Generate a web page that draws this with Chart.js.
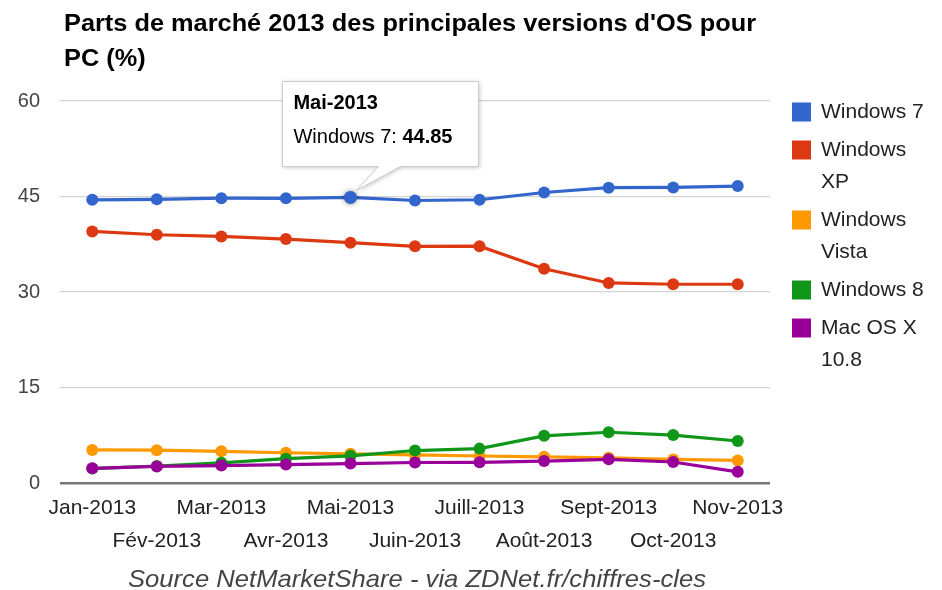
<!DOCTYPE html>
<html>
<head>
<meta charset="utf-8">
<script src="https://cdn.jsdelivr.net/npm/chart.js@4/dist/chart.umd.min.js"></script>
<style>
  html, body { margin: 0; padding: 0; background: #fff; }
  canvas { display: block; }
</style>
</head>
<body>
<canvas id="osChart" width="942" height="590"></canvas>
<script>
'use strict';

// months shown on the x axis
var months = ['Jan-2013', 'Fév-2013', 'Mar-2013', 'Avr-2013', 'Mai-2013', 'Juin-2013',
  'Juill-2013', 'Août-2013', 'Sept-2013', 'Oct-2013', 'Nov-2013'];

// market share (%) per OS version
var win7   = [44.48, 44.55, 44.73, 44.71, 44.85, 44.37, 44.49, 45.63, 46.39, 46.42, 46.64];
var winXP  = [39.51, 38.99, 38.73, 38.31, 37.74, 37.17, 37.19, 33.66, 31.42, 31.22, 31.22];
var vista  = [5.20, 5.15, 4.97, 4.75, 4.58, 4.41, 4.24, 4.11, 3.96, 3.70, 3.55];
var win8   = [2.26, 2.67, 3.17, 3.82, 4.27, 5.10, 5.40, 7.41, 7.97, 7.53, 6.60];
var mac108 = [2.30, 2.60, 2.74, 2.89, 3.05, 3.22, 3.25, 3.45, 3.72, 3.30, 1.75];

var seriesNames = ['Windows 7', 'Windows XP', 'Windows Vista', 'Windows 8', 'Mac OS X 10.8'];
// how each legend entry wraps
var legendLines = [['Windows 7'], ['Windows', 'XP'], ['Windows', 'Vista'], ['Windows 8'], ['Mac OS X', '10.8']];
var colors = ['#3366cc', '#dc3912', '#ff9900', '#109618', '#990099'];

var yTicks = [0, 15, 30, 45, 60];

var titleLines = ["Parts de marché 2013 des principales versions d'OS pour", 'PC (%)'];
var sourceText = 'Source NetMarketShare - via ZDNet.fr/chiffres-cles';

// tooltip shown in the picture
var tipSeries = 0;
var tipIndex = 4;

var FONT = '"Liberation Sans", Arial, sans-serif';

function stretchText(ctx, text, x, y, width) {
  var w = ctx.measureText(text).width;
  ctx.save();
  ctx.translate(x, y);
  ctx.scale(width / w, 1);
  ctx.fillText(text, 0, 0);
  ctx.restore();
}

var textPlugin = {
  id: 'texts',
  afterDraw: function(chart) {
    var ctx = chart.ctx;
    ctx.save();
    ctx.fillStyle = '#000';
    ctx.textAlign = 'left';
    ctx.textBaseline = 'alphabetic';
    ctx.font = 'bold 23px ' + FONT;
    var full = ctx.measureText(titleLines[0]).width;
    var sx = 692 / full;
    stretchText(ctx, titleLines[0], 64, 31, 692);
    stretchText(ctx, titleLines[1], 64, 66, ctx.measureText(titleLines[1]).width * sx);

    // source line
    ctx.font = 'italic 24px ' + FONT;
    ctx.fillStyle = '#444';
    stretchText(ctx, sourceText, 128, 587, 578);

    // legend
    var lx = 792, ly = 112, box = 19;
    ctx.font = '21px ' + FONT;
    ctx.textBaseline = 'middle';
    for (var i = 0; i < legendLines.length; i++) {
      ctx.fillStyle = chart.data.datasets[i].borderColor;
      ctx.fillRect(lx, ly - box / 2, box, box);
      ctx.fillStyle = '#222';
      for (var j = 0; j < legendLines[i].length; j++) {
        ctx.fillText(legendLines[i][j], lx + 29, ly + j * 32);
      }
      ly += (legendLines[i].length - 1) * 32 + 38;
    }
    ctx.restore();
  }
};

var callout = {
  id: 'callout',
  afterDatasetsDraw: function(chart) {
    var pt = chart.getDatasetMeta(tipSeries).data[tipIndex];
    var ctx = chart.ctx;
    var px = pt.x, py = pt.y;

    var left = px - 68, top = py - 116, w = 196, h = 85;
    ctx.save();
    ctx.beginPath();
    ctx.moveTo(left, top);
    ctx.lineTo(left + w, top);
    ctx.lineTo(left + w, top + h);
    ctx.lineTo(px + 50, top + h);
    ctx.lineTo(px + 6, py - 7);
    ctx.lineTo(px + 28, top + h);
    ctx.lineTo(left, top + h);
    ctx.closePath();
    ctx.shadowColor = 'rgba(0,0,0,0.25)';
    ctx.shadowBlur = 4;
    ctx.shadowOffsetX = 1;
    ctx.shadowOffsetY = 1;
    ctx.fillStyle = '#fff';
    ctx.fill();
    ctx.shadowColor = 'transparent';
    ctx.strokeStyle = '#cccccc';
    ctx.lineWidth = 1;
    ctx.stroke();

    ctx.fillStyle = '#000';
    ctx.textAlign = 'left';
    ctx.textBaseline = 'middle';
    ctx.font = 'bold 20px ' + FONT;
    ctx.fillText(chart.data.labels[tipIndex], left + 11, top + 22);
    ctx.font = '20px ' + FONT;
    var lbl = chart.data.datasets[tipSeries].label + ': ';
    ctx.fillText(lbl, left + 11, top + 56);
    var lw = ctx.measureText(lbl).width;
    ctx.font = 'bold 20px ' + FONT;
    ctx.fillText(chart.data.datasets[tipSeries].data[tipIndex].toFixed(2), left + 11 + lw, top + 56);
    ctx.restore();

    // highlighted point, on top of the caret
    ctx.save();
    ctx.beginPath();
    ctx.arc(px, py, 6.5, 0, Math.PI * 2);
    ctx.shadowColor = 'rgba(0,0,0,0.45)';
    ctx.shadowBlur = 5;
    ctx.fillStyle = chart.data.datasets[tipSeries].borderColor;
    ctx.fill();
    ctx.restore();
  }
};

var allSeries = [win7, winXP, vista, win8, mac108];
var datasets = allSeries.map(function(values, i) {
  return {
    label: seriesNames[i],
    data: values,
    borderColor: colors[i],
    backgroundColor: colors[i],
    borderWidth: 3.2,
    pointRadius: 6,
    pointBorderWidth: 0,
    pointHoverRadius: 6,
    tension: 0,
    order: allSeries.length - i
  };
});

var ctx = document.getElementById('osChart').getContext('2d');
var osChart = new Chart(ctx, {
  type: 'line',
  data: { labels: months, datasets: datasets },
  plugins: [textPlugin, callout],
  options: {
    responsive: false,
    animation: false,
    events: [],
    layout: { padding: { top: 101, right: 172, left: 0, bottom: 0 } },
    plugins: {
      legend: { display: false },
      tooltip: { enabled: false },
      title: { display: false }
    },
    scales: {
      x: {
        offset: true,
        grid: { display: false, drawTicks: false },
        border: { display: false },
        ticks: {
          autoSkip: false,
          maxRotation: 0,
          minRotation: 0,
          padding: 9,
          color: '#222',
          font: { family: FONT, size: 21, lineHeight: 1.56 },
          callback: function(value, index) {
            var lab = this.getLabelForValue(value);
            return index % 2 === 0 ? [lab] : ['', lab];
          }
        },
        afterFit: function(scale) { scale.height = 107; }
      },
      y: {
        min: 0,
        max: 60,
        afterBuildTicks: function(scale) {
          scale.ticks = yTicks.map(function(v) { return { value: v }; });
        },
        grid: {
          drawTicks: false,
          color: function(c) { return c.tick && c.tick.value === 0 ? '#777' : '#d4d4d4'; },
          lineWidth: function(c) { return c.tick && c.tick.value === 0 ? 2.5 : 1.2; }
        },
        border: { display: false },
        ticks: {
          padding: 20,
          color: '#444',
          font: { family: FONT, size: 20 }
        },
        afterFit: function(scale) { scale.width = 60; }
      }
    }
  }
});
</script>
</body>
</html>
